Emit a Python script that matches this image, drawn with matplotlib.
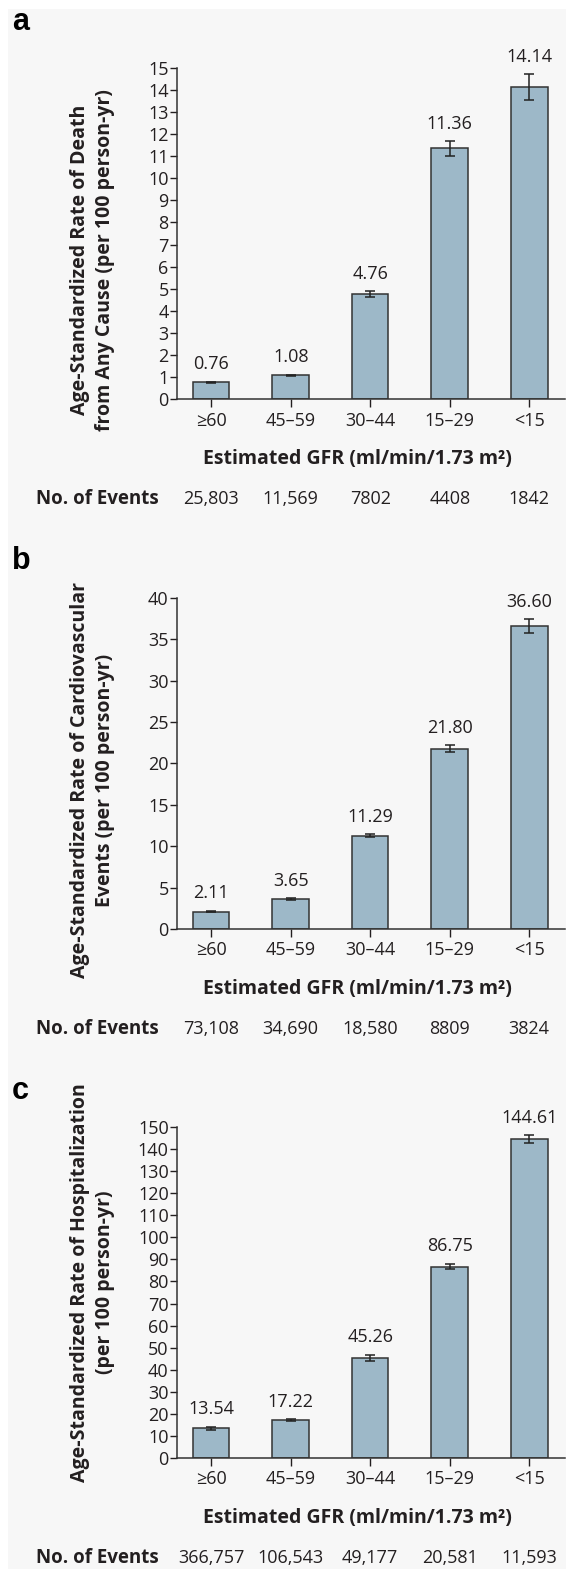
import matplotlib
matplotlib.use('Agg')
import matplotlib.pyplot as plt
from matplotlib.patches import Rectangle

plt.rcParams['font.family'] = ['Open Sans', 'DejaVu Sans']
plt.rcParams['text.color'] = '#231f20'
plt.rcParams['xtick.color'] = '#231f20'
plt.rcParams['ytick.color'] = '#231f20'

groups = ['≥60', '45–59', '30–44', '15–29', '<15']

death_rate = [0.76, 1.08, 4.76, 11.36, 14.14]
death_err = [0.03, 0.03, 0.12, 0.33, 0.58]
death_events = ['25,803', '11,569', '7802', '4408', '1842']

cv_rate = [2.11, 3.65, 11.29, 21.80, 36.60]
cv_err = [0.1, 0.1, 0.15, 0.4, 0.85]
cv_events = ['73,108', '34,690', '18,580', '8809', '3824']

hosp_rate = [13.54, 17.22, 45.26, 86.75, 144.61]
hosp_err = [0.7, 0.5, 1.5, 1.3, 1.8]
hosp_events = ['366,757', '106,543', '49,177', '20,581', '11,593']

W, H = 566, 1569
BAR = '#9db8c8'
EDGE = '#333333'

fig = plt.figure(figsize=(W / 100, H / 100), dpi=100)
fig.patch.set_facecolor('white')
# light grey backdrop of the original scan
fig.patches.append(Rectangle((8 / W, 0), 1, 1 - 9 / H, transform=fig.transFigure,
                             facecolor='#f7f7f7', edgecolor='none', zorder=-10))


def draw_panel(top, rates, errs, events, ymax, ystep, ylabel, label_y, letter, letter_y):
    ax = fig.add_axes([177 / W, 1 - (top + 331) / H, (565 - 177) / W, 331 / H])
    ax.set_facecolor('none')
    x = list(range(len(groups)))
    ax.bar(x, rates, width=0.46, color=BAR, edgecolor=EDGE, linewidth=1.1, zorder=2)
    ax.errorbar(x, rates, yerr=errs, fmt='none', ecolor='#222222', elinewidth=1.1,
                capsize=3.3, capthick=1.1, zorder=3)
    for xi, v, e in zip(x, rates, errs):
        ax.annotate(f'{v:.2f}', (xi, v + e), xytext=(0, 6), textcoords='offset points',
                    ha='center', va='bottom', fontsize=13)
    ax.set_xlim(-0.43, 4.45)
    ax.set_ylim(0, ymax)
    ax.set_yticks(range(0, ymax + 1, ystep))
    ax.set_xticks(x, groups)
    ax.tick_params(axis='y', length=5, width=1, pad=1, labelsize=13)
    ax.tick_params(axis='x', length=6, width=1, pad=3, labelsize=13)
    for s in ['top', 'right']:
        ax.spines[s].set_visible(False)
    for s in ['left', 'bottom']:
        ax.spines[s].set_linewidth(1.1)
        ax.spines[s].set_color('#333333')

    ax.text(-0.218, label_y, ylabel, rotation=90, ha='center', va='center',
            transform=ax.transAxes, fontsize=14, fontweight='bold', linespacing=1.3)
    ax.text(0.465, -60 / 331, 'Estimated GFR (ml/min/1.73 m²)', ha='center', va='center',
            transform=ax.transAxes, fontsize=14, fontweight='bold')
    ax.text(-0.046, -100 / 331, 'No. of Events', ha='right', va='center',
            transform=ax.transAxes, fontsize=13.5, fontweight='bold')
    for xi, ev in zip(x, events):
        ax.text(xi, -100 / 331, ev, ha='center', va='center',
                transform=ax.get_xaxis_transform(), fontsize=13)
    fig.text(12 / W, 1 - letter_y / H, letter, ha='left', va='center', fontsize=22,
             fontweight='bold', family='Liberation Sans', color='black')
    return ax


draw_panel(68, death_rate, death_err, death_events, 15, 1,
           'Age-Standardized Rate of Death\nfrom Any Cause (per 100 person-yr)', 0.42, 'a', 22)
draw_panel(598, cv_rate, cv_err, cv_events, 40, 5,
           'Age-Standardized Rate of Cardiovascular\nEvents (per 100 person-yr)', 0.45, 'b', 561)
draw_panel(1127, hosp_rate, hosp_err, hosp_events, 150, 10,
           'Age-Standardized Rate of Hospitalization\n(per 100 person-yr)', 0.53, 'c', 1091)

fig.savefig('out.png', dpi=100, facecolor=fig.get_facecolor())
